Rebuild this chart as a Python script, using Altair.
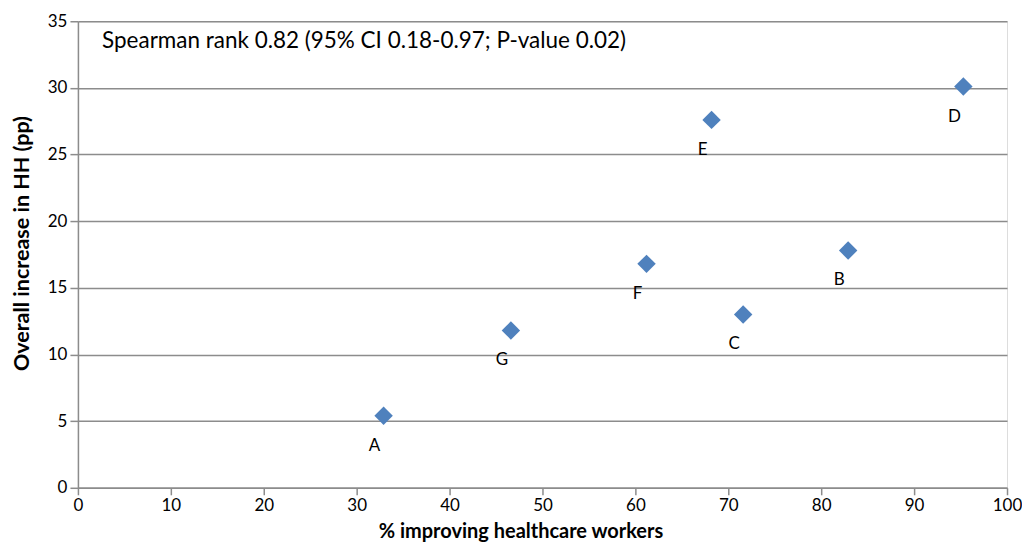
import altair as alt
import pandas as pd

# ---- data ----
sites = ["A", "B", "C", "D", "E", "F", "G"]
pct_improving = [32.9, 82.9, 71.6, 95.3, 68.2, 61.2, 46.6]
hh_increase = [5.4, 17.8, 13.0, 30.1, 27.6, 16.8, 11.8]

annotation_text = ["Spearman rank 0.82 (95% CI 0.18-0.97; P-value 0.02)"]
annotation_x = [2.6]
annotation_y = [33.5]

x_ticks = [0, 10, 20, 30, 40, 50, 60, 70, 80, 90, 100]
y_ticks = [0, 5, 10, 15, 20, 25, 30, 35]

x_title = "% improving healthcare workers"
y_title = "Overall increase in HH (pp)"

# ---- build ----
FONT = "Lato"
GRID = "#8c8c8c"

df = pd.DataFrame({"site": sites, "x": pct_improving, "y": hh_increase})
ann = pd.DataFrame({"t": annotation_text, "x": annotation_x, "y": annotation_y})

xs = alt.Scale(domain=[0, 100], nice=False, zero=True)
ys = alt.Scale(domain=[0, 35], nice=False, zero=True)

x_axis = alt.Axis(
    values=x_ticks, title=x_title, grid=False,
    domainColor=GRID, domainWidth=1.5, tickColor=GRID, tickWidth=1.5, tickSize=7,
    labelFont=FONT, labelFontSize=17, labelColor="black", labelPadding=3,
    titleFont=FONT, titleFontSize=20, titleFontWeight="bold", titleColor="black",
    titlePadding=8, titleX=443, labelFlush=False,
)
y_axis = alt.Axis(
    values=y_ticks, title=y_title, grid=True, gridColor=GRID, gridWidth=1.5,
    domainColor=GRID, domainWidth=1.5, tickColor=GRID, tickWidth=1.5, tickSize=8,
    labelFont=FONT, labelFontSize=17, labelColor="black", labelPadding=3,
    titleFont=FONT, titleFontSize=21.5, titleFontWeight="bold", titleColor="black",
    titlePadding=14, titleY=222, labelFlush=False,
)

x_enc = alt.X("x:Q", scale=xs, axis=x_axis)
y_enc = alt.Y("y:Q", scale=ys, axis=y_axis)

points = alt.Chart(df).mark_point(
    shape="diamond", filled=True, size=340, color="#4f81bd", opacity=1
).encode(x=x_enc, y=y_enc)

labels = alt.Chart(df).mark_text(
    dx=-9, dy=30, font=FONT, fontSize=17, color="black"
).encode(x=x_enc, y=y_enc, text="site:N")

annotation = alt.Chart(ann).mark_text(
    align="left", baseline="middle", font=FONT, fontSize=22.5, color="black"
).encode(x=x_enc, y=y_enc, text="t:N")

chart = alt.layer(points, labels, annotation).properties(
    width=930,
    height=467,
    autosize=alt.AutoSizeParams(type="none"),
    padding={"left": 70, "top": 13, "right": 15, "bottom": 60},
).configure_view(stroke=None).configure(background="white")

chart.save("out.html", embed_options={"renderer": "svg", "actions": False})
